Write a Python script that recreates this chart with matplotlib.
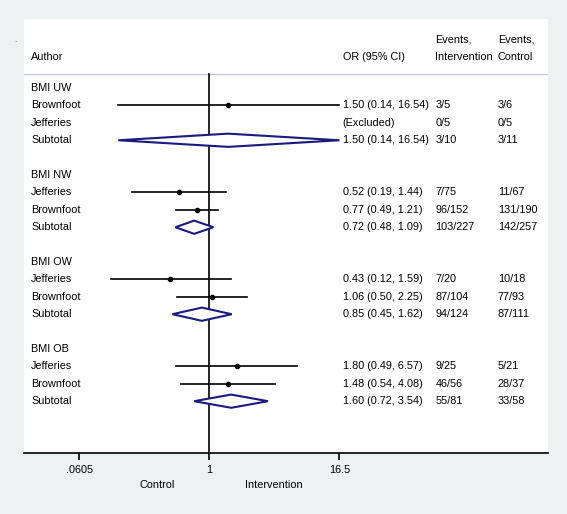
import numpy as np
import matplotlib

matplotlib.use('Agg')
import matplotlib.pyplot as plt

plt.rcParams['font.family'] = ['Liberation Sans', 'DejaVu Sans']

# rows of the forest plot, top to bottom
labels = ['BMI UW', 'Brownfoot', 'Jefferies', 'Subtotal',
          'BMI NW', 'Jefferies', 'Brownfoot', 'Subtotal',
          'BMI OW', 'Jefferies', 'Brownfoot', 'Subtotal',
          'BMI OB', 'Jefferies', 'Brownfoot', 'Subtotal']
rows = [0, 1, 2, 3, 5, 6, 7, 8, 10, 11, 12, 13, 15, 16, 17, 18]
kind = ['head', 'study', 'excl', 'sub',
        'head', 'study', 'study', 'sub',
        'head', 'study', 'study', 'sub',
        'head', 'study', 'study', 'sub']
orv = [None, 1.50, None, 1.50, None, 0.52, 0.77, 0.72,
       None, 0.43, 1.06, 0.85, None, 1.80, 1.48, 1.60]
lo = [None, 0.14, None, 0.14, None, 0.19, 0.49, 0.48,
      None, 0.12, 0.50, 0.45, None, 0.49, 0.54, 0.72]
hi = [None, 16.54, None, 16.54, None, 1.44, 1.21, 1.09,
      None, 1.59, 2.25, 1.62, None, 6.57, 4.08, 3.54]
ev_int = ['', '3/5', '0/5', '3/10', '', '7/75', '96/152', '103/227',
          '', '7/20', '87/104', '94/124', '', '9/25', '46/56', '55/81']
ev_ctl = ['', '3/6', '0/5', '3/11', '', '11/67', '131/190', '142/257',
          '', '10/18', '77/93', '87/111', '', '5/21', '28/37', '33/58']
ticks = [0.0605, 1, 16.5]
tick_labels = ['.0605', '1', '16.5']

fig = plt.figure(figsize=(5.67, 5.14), dpi=100)
fig.patch.set_facecolor('#edf1f2')
ax = fig.add_axes([24 / 567, 1 - 452.5 / 514, 524 / 567, 434 / 514])
ax.set_facecolor('white')
ax.set_xscale('log')
ax.set_xlim(0.0183, 1490)
ax.set_ylim(20.95, -4.0)
for s in ['top', 'right', 'left']:
    ax.spines[s].set_visible(False)
ax.spines['bottom'].set_linewidth(1.2)
ax.set_yticks([])
ax.set_xticks(ticks)
ax.set_xticklabels(tick_labels, fontsize=7.8)
ax.xaxis.set_minor_locator(matplotlib.ticker.NullLocator())
ax.tick_params(axis='x', length=5, width=1.2, pad=4)

tr = matplotlib.transforms.blended_transform_factory(ax.transAxes, ax.transData)
fs = 7.8
x_lab, x_or, x_int, x_ctl = 0.0134, 0.608, 0.785, 0.904

# header
ax.text(x_lab, -1.8, 'Author', transform=tr, fontsize=fs, va='center')
ax.text(x_or, -1.8, 'OR (95% CI)', transform=tr, fontsize=fs, va='center')
ax.text(x_int, -2.8, 'Events,', transform=tr, fontsize=fs, va='center')
ax.text(x_int, -1.8, 'Intervention', transform=tr, fontsize=fs, va='center')
ax.text(x_ctl, -2.8, 'Events,', transform=tr, fontsize=fs, va='center')
ax.text(x_ctl, -1.8, 'Control', transform=tr, fontsize=fs, va='center')
ax.axhline(-0.8, color='#c8c8d8', lw=1)
ax.plot([1, 1], [-0.8, 20.95], color='black', lw=1.2)

for i in range(len(labels)):
    y = rows[i]
    ax.text(x_lab, y, labels[i], transform=tr, fontsize=fs, va='center')
    if kind[i] == 'excl':
        ax.text(x_or, y, '(Excluded)', transform=tr, fontsize=fs, va='center')
    elif kind[i] != 'head':
        ax.text(x_or, y, '%.2f (%.2f, %.2f)' % (orv[i], lo[i], hi[i]),
                transform=tr, fontsize=fs, va='center')
    ax.text(x_int, y, ev_int[i], transform=tr, fontsize=fs, va='center')
    ax.text(x_ctl, y, ev_ctl[i], transform=tr, fontsize=fs, va='center')
    if kind[i] == 'study':
        ax.plot([lo[i], hi[i]], [y, y], color='black', lw=1.2)
        ax.plot(orv[i], y, 'o', color='black', ms=3)
    elif kind[i] == 'sub':
        ax.fill([lo[i], orv[i], hi[i], orv[i]], [y, y - 0.38, y, y + 0.38],
                facecolor='white', edgecolor='#1a1a80', lw=1.5, zorder=3)

ax.text(0.255, -0.075, 'Control', transform=ax.transAxes, fontsize=fs, ha='center', va='center')
ax.text(0.476, -0.075, 'Intervention', transform=ax.transAxes, fontsize=fs, ha='center', va='center')
fig.text(14 / 567, 1 - 40 / 514, '.', fontsize=6, color='#555555', va='center')

fig.savefig('out.png', dpi=100, facecolor=fig.get_facecolor())
